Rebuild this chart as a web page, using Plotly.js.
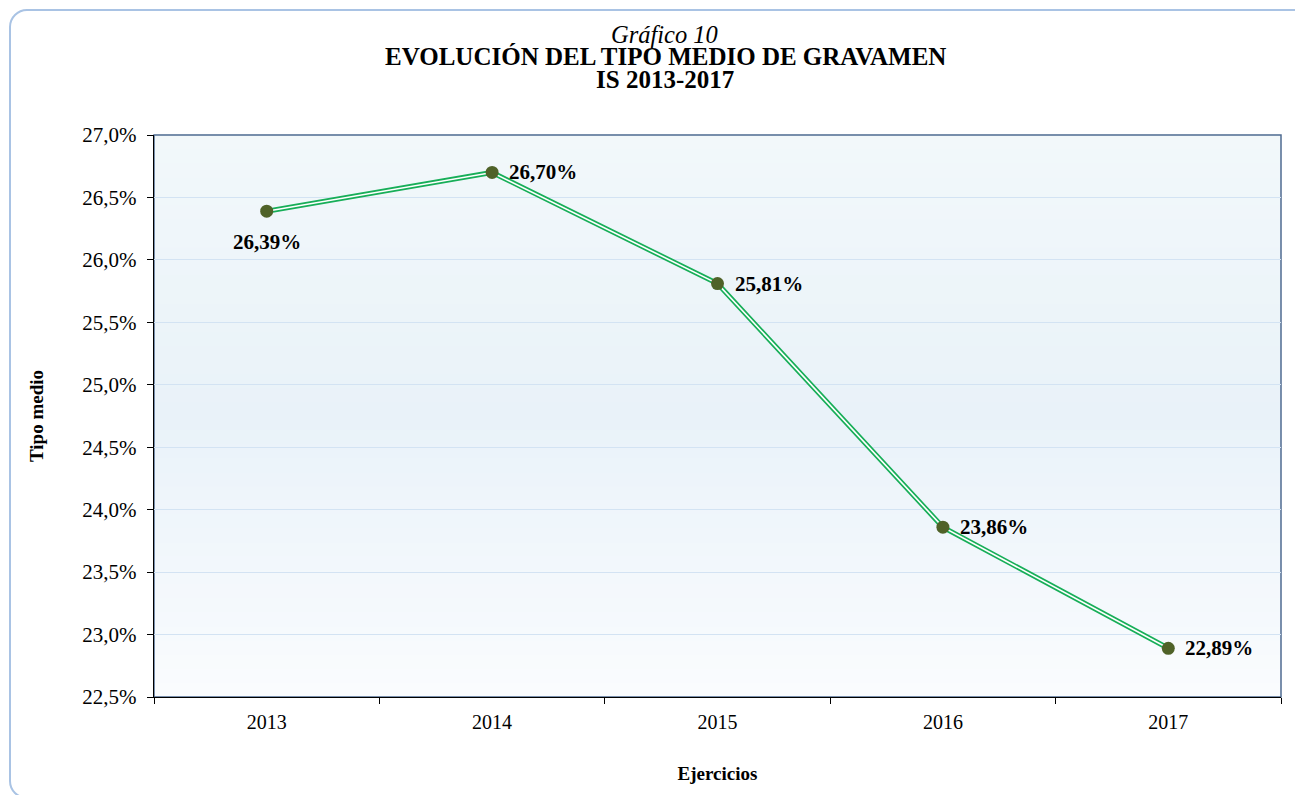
<!DOCTYPE html>
<html>
<head>
<meta charset="utf-8">
<script src="https://cdn.plot.ly/plotly-3.0.1.min.js"></script>
<style>
  html, body { margin:0; padding:0; background:#ffffff; overflow:hidden; }
  #chart { width:1295px; height:795px; position:absolute; left:0; top:0; }
  #frame { position:absolute; left:9px; top:9px; width:1310px; height:790px;
           border:2px solid #a9c3e4; border-radius:18px; pointer-events:none; box-sizing:border-box; }
</style>
</head>
<body>
<div id="chart"></div>
<div id="frame"></div>
<script>
// ---- data ----
const years = ["2013", "2014", "2015", "2016", "2017"];
const tipoMedio = [26.39, 26.70, 25.81, 23.86, 22.89];

const chartTitle = "Gráfico 10";
const chartSubtitle1 = "EVOLUCIÓN DEL TIPO MEDIO DE GRAVAMEN";
const chartSubtitle2 = "IS 2013-2017";
const yTitle = "Tipo medio";
const xTitle = "Ejercicios";

// ---- styling ----
const FONT = "Liberation Serif, Times New Roman, serif";
const L = 154, R = 14, T = 135, B = 98, H = 795;
const plotH = H - T - B;
function py(p) { return (H - B - p) / plotH; }   // pixel row -> paper y
const plotW = 1295 - L - R;
function px(p) { return (p - L) / plotW; }

// subtle vertical gradient for plot background
function hex(c){return [parseInt(c.slice(1,3),16),parseInt(c.slice(3,5),16),parseInt(c.slice(5,7),16)];}
function mix(a,b,t){const A=hex(a),Bc=hex(b);return 'rgb('+A.map((v,i)=>Math.round(v+(Bc[i]-v)*t)).join(',')+')';}
const topC = "#f2f8fa", midC = "#e9f2f9", botC = "#fafcfe";
const shapes = [];
const N = 40;
for (let i = 0; i < N; i++) {
  const y0 = i / N, y1 = (i + 1) / N;
  const m = (y0 + y1) / 2; // 0 bottom, 1 top
  const col = m > 0.5 ? mix(midC, topC, (m - 0.5) / 0.5) : mix(botC, midC, m / 0.5);
  shapes.push({type:'rect', xref:'paper', yref:'paper', x0:0, x1:1, y0:y0, y1:y1+0.002,
               fillcolor:col, line:{width:0}, layer:'below'});
}
shapes.push({type:'rect', xref:'paper', yref:'paper', x0:0, x1:1, y0:0, y1:1,
             fillcolor:'rgba(0,0,0,0)', line:{color:'#4f6b91', width:1.5}, layer:'between'});

const traces = [
  { x: years, y: tipoMedio, type:'scatter', mode:'lines',
    line:{color:'#17ae58', width:5}, hoverinfo:'skip', showlegend:false },
  { x: years, y: tipoMedio, type:'scatter', mode:'lines+markers',
    line:{color:'#ffffff', width:1.6},
    marker:{color:'#4f6228', size:13},
    showlegend:false, cliponaxis:false }
];

function fmt(v) { return v.toFixed(2).replace('.', ',') + '%'; }
// on a category axis annotations use the category index
const labelAnns = years.map((yr, i) => {
  const below = (i === 0);
  return {
    x: i, y: tipoMedio[i], xref:'x', yref:'y', text:'<b>' + fmt(tipoMedio[i]) + '</b>',
    showarrow:false,
    xanchor: below ? 'center' : 'left', yanchor:'middle',
    xshift: below ? 0 : 15, yshift: below ? -31 : 0,
    font:{family:FONT, size:21, color:'#000000'}
  };
});

const layout = {
  width:1295, height:795,
  margin:{l:L, r:R, t:T, b:B},
  paper_bgcolor:'rgba(0,0,0,0)',
  plot_bgcolor:'#f4f9fb',
  separators:',.',
  font:{family:FONT, color:'#000000', size:20},
  showlegend:false,
  xaxis:{
    type:'category', range:[-0.5, 4.5], tickson:'boundaries', ticks:'outside', ticklen:6, tickcolor:'#000000',
    showline:true, linecolor:'#000000', linewidth:1.2, showgrid:false, zeroline:false,
    tickfont:{family:FONT, size:20, color:'#000000'}, ticklabelstandoff:7,
    title:{text:xTitle, font:{family:FONT, size:19, color:'#000000', weight:'bold'}, standoff:34},
    fixedrange:true
  },
  yaxis:{
    range:[22.5, 27.0], dtick:0.5, tick0:22.5, tickformat:'.1f', ticksuffix:'%',
    ticks:'outside', ticklen:6, tickcolor:'#000000',
    showline:true, linecolor:'#000000', linewidth:1.2,
    showgrid:true, gridcolor:'#d3e3f3', gridwidth:1.2, zeroline:false,
    tickfont:{family:FONT, size:21, color:'#000000'}, ticklabelstandoff:6,
    title:{text:yTitle, font:{family:FONT, size:19, color:'#000000', weight:'bold'}, standoff:33},
    fixedrange:true
  },
  shapes:shapes,
  annotations:[
    {text:chartTitle, xref:'paper', yref:'paper', x:px(664), y:py(35), xanchor:'center', yanchor:'middle',
     showarrow:false, font:{family:FONT, size:24.5, style:'italic', color:'#000000'}},
    {text:'<b>'+chartSubtitle1+'</b>', xref:'paper', yref:'paper', x:px(665), y:py(57), xanchor:'center', yanchor:'middle',
     showarrow:false, font:{family:FONT, size:25, color:'#000000'}},
    {text:'<b>'+chartSubtitle2+'</b>', xref:'paper', yref:'paper', x:px(665), y:py(80), xanchor:'center', yanchor:'middle',
     showarrow:false, font:{family:FONT, size:25, color:'#000000'}}
  ].concat(labelAnns)
};

Plotly.newPlot('chart', traces, layout, {displayModeBar:false, staticPlot:true});
</script>
</body>
</html>
